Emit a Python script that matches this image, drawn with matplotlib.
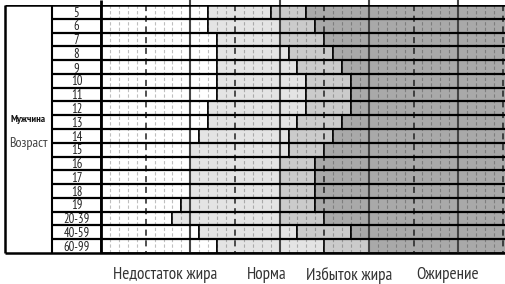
import matplotlib
matplotlib.use("Agg")
import matplotlib.pyplot as plt
from matplotlib import font_manager

# body fat chart, men, percent ranges per age group
ages = ["5", "6", "7", "8", "9", "10", "11", "12", "13", "14", "15",
        "16", "17", "18", "19", "20-39", "40-59", "60-99"]
under_fat = [12, 12, 13, 13, 13, 13, 13, 12, 12, 11, 10, 10, 10, 10, 9, 8, 11, 13]
normal_top = [19, 20, 20, 21, 22, 23, 23, 23, 22, 21, 21, 20, 20, 20, 20, 20, 22, 25]
over_top = [23, 24, 25, 26, 27, 28, 28, 28, 27, 26, 25, 24, 24, 24, 24, 25, 28, 30]
zone_names = ["Недостаток жира", "Норма", "Избыток жира", "Ожирение"]
zone_label_x = [7.2, 18.5, 27.8, 38.8]
zone_colors = ["#ffffff", "#e4e4e4", "#cbcbcb", "#a9a9a9"]

installed = {f.name for f in font_manager.fontManager.ttflist}
candidates = ["PT Sans Narrow", "Roboto Condensed", "Fira Sans Condensed",
              "Archivo Narrow", "Liberation Sans Narrow"]
narrow = next((c for c in candidates if c in installed), "DejaVu Sans")
plt.rcParams["font.family"] = [narrow, "DejaVu Sans"]

W, H = 505, 284
fig = plt.figure(figsize=(W / 100, H / 100), dpi=100)

# 1 percent = 8.93 px, 0 % at x=101 px; rows from y=5 to 253 px
px_per_pct = 8.93
x_left = (5 - 101) / px_per_pct
x_right = (W - 101) / px_per_pct
x_sep = (52 - 101) / px_per_pct
n = len(ages)
ax = fig.add_axes([5 / W, (H - 253) / H, (W - 5) / W, 248 / H])
ax.set_xlim(x_left, x_right)
ax.set_ylim(n, 0)
ax.axis("off")

rows = list(range(n))
x_end = x_right + 2
starts = [[0] * n, under_fat, normal_top, over_top]
ends = [under_fat, normal_top, over_top, [x_end] * n]
for s, e, c in zip(starts, ends, zone_colors):
    widths = [b - a for a, b in zip(s, e)]
    ax.barh(rows, widths, left=s, height=1.0, align="edge", color=c,
            edgecolor="black", linewidth=1.1, zorder=1)

# grid lines over the bars
for p in range(1, 46):
    if p % 10 == 0:
        continue
    if p % 5 == 0:
        ax.vlines(p, 0, n, colors="#222222", linewidth=1.1,
                  linestyles=(0, (4, 3)), zorder=3)
    else:
        ax.vlines(p, 0, n, colors=(0, 0, 0, 0.25), linewidth=0.8,
                  linestyles=(0, (3, 2)), zorder=2)
tick_top = -5 / 13.78
for p in [10, 20, 30, 40]:
    ax.vlines(p, tick_top, n, colors="#444444", linewidth=1.5, zorder=4, clip_on=False)

# row separators and table frame
ax.hlines(range(1, n), x_sep, x_right, colors="black", linewidth=1.6, zorder=5)
ax.hlines([0], x_left, x_right, colors="black", linewidth=1.8, zorder=5)
ax.hlines([n], x_left, x_right, colors="black", linewidth=1.8, zorder=5, clip_on=False)
ax.vlines(0, tick_top, n, colors="black", linewidth=2, zorder=5, clip_on=False)
ax.vlines(x_sep, 0, n, colors="black", linewidth=1.5, zorder=5)
ax.vlines(x_left, 0, n, colors="black", linewidth=1.8, zorder=5, clip_on=False)

for i, a in enumerate(ages):
    ax.text((x_sep) / 2, i + 0.84, a, ha="center", va="baseline", fontsize=9, color="#222222")

x_col1 = (x_left + x_sep) / 2
ax.text(x_col1, 8.3, "Мужчина", ha="center", va="center", fontsize=7.5,
        fontweight="bold", color="#111111")
ax.text(x_col1, 10.05, "Возраст", ha="center", va="center", fontsize=10, color="#444444")

for name, x in zip(zone_names, zone_label_x):
    ax.text(x, 19.6, name, ha="center", va="center", fontsize=12.3, color="#333333",
            clip_on=False)

fig.savefig("out.png", dpi=100)
